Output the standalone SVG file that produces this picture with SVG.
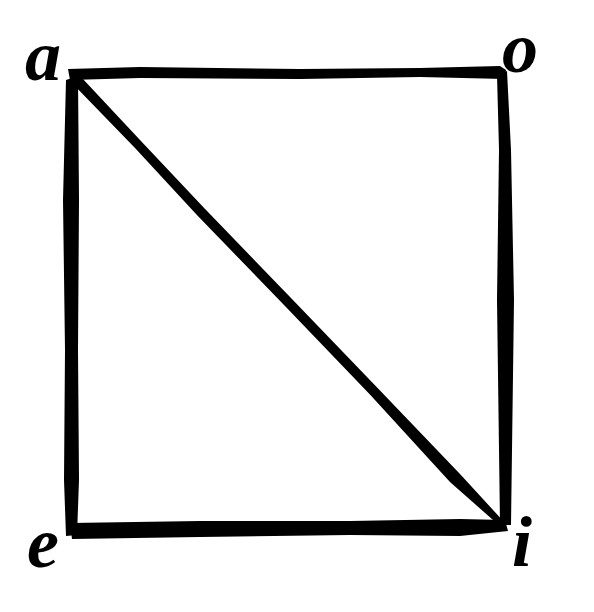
<svg xmlns="http://www.w3.org/2000/svg" width="594" height="612" viewBox="0 0 594 612">
<style>
.ink{fill:#000;stroke:none}
.lbl{font-family:"Liberation Serif","DejaVu Serif",serif;font-style:italic;font-weight:bold;fill:#000}
</style>
<rect width="594" height="612" fill="#fff"/>
<g id="lines">
<path id="top" class="ink" d="M68,69 L140,67 L300,69 L420,68 L500,66 L506,70 L505,79 L420,77 L300,79 L140,78 L70,80 Z"/>
<path id="left" class="ink" d="M66,80 L78,76 L79,200 L78,350 L79,480 L77,535 L66,536 L64,480 L65,350 L63,200 Z"/>
<path id="right" class="ink" d="M497,75 L507,71 L511,150 L514,300 L512,450 L511,525 L500,525 L499,450 L497,300 L499,150 Z"/>
<path id="bottom" class="ink" d="M70,523 L200,521 L350,521 L460,519 L505,520 L508,531 L460,536 L350,535 L200,537 L72,539 Z"/>
<path id="diag" class="ink" d="M72,74 L82,78 L140,140 L204.6,208.5 L291,298 L377.6,388 L460,474 L505,523 L501,527 L450,482 L370.4,395 L284,305 L197.4,215.5 L135,148 L71,82 Z"/>
</g>
<g id="node-a"><text class="lbl" x="25" y="80" font-size="72">a</text></g>
<g id="node-o"><text class="lbl" x="502" y="72" font-size="72">o</text></g>
<g id="node-e"><text class="lbl" x="27" y="567" font-size="72">e</text></g>
<g id="node-i"><text class="lbl" x="512" y="566" font-size="72">i</text></g>
</svg>
